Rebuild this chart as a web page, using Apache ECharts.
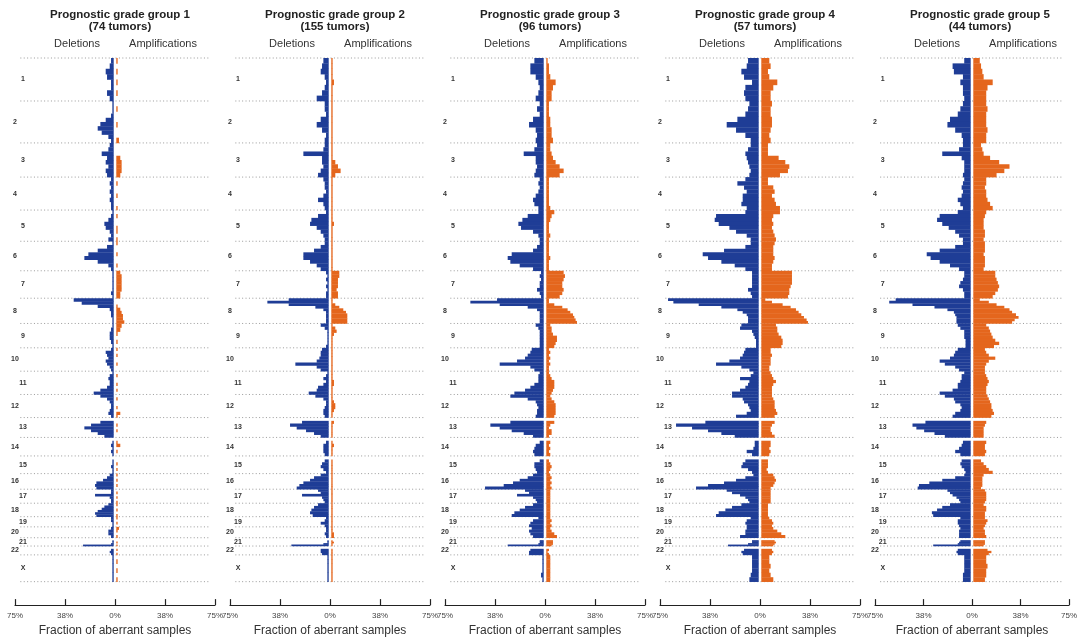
<!DOCTYPE html>
<html>
<head>
<meta charset="utf-8">
<script src="https://cdn.jsdelivr.net/npm/echarts@6/dist/echarts.min.js"></script>
<style>
  html, body { margin: 0; padding: 0; background: #fff; }
  #chart { width: 1080px; height: 642px; }
</style>
</head>
<body>
<div id="chart"></div>
<script>
const chromosomes = ['1', '2', '3', '4', '5', '6', '7', '8', '9', '10', '11', '12', '13', '14', '15', '16', '17', '18', '19', '20', '21', '22', 'X']
// chromosome lengths in Mb
const chromLengths = [249.25, 243.2, 198.0, 191.15, 180.9, 171.1, 159.1, 146.4, 141.2, 135.5, 135.0, 133.9, 115.2, 107.3, 102.5, 90.35, 81.2, 78.1, 59.1, 63.0, 48.1, 51.3, 155.3]
// no probes on the p-arm of acrocentric chromosomes (Mb)
const dataStart = [0, 0, 0, 0, 0, 0, 0, 0, 0, 0, 0, 0, 19, 19, 20, 0, 0, 0, 0, 0, 14, 16, 0]
const groupNames = ['Prognostic grade group 1', 'Prognostic grade group 2', 'Prognostic grade group 3', 'Prognostic grade group 4', 'Prognostic grade group 5']
const tumorCounts = [74, 155, 96, 57, 44]
const xTicks = [-75, -37.5, 0, 37.5, 75]

// fraction of aberrant samples (%), one list per chromosome, evenly spread along it
const del1 = [[2,3,6,5,2,2,5,3],[1,1,1,2,6,10,12,9,4,2],[3,4,9,5,6,4,6,5],[2,3,2,3,2,3,2,2],[1,2,4,7,6,3,2,4],[1,5,12,19,22,12,4,2],[1,1,1,1,1,1,2,1],[30,24,12,3,2,2,1,1],[1,2,3,3,2,1],[2,6,5,4,6,5,3,2],[1,3,4,3,3,5,10,15],[10,5,3,2,2,3,4,2],[10,17,22,17,12,7],[1,2,1,2,1],[1,1,2,1,1],[3,5,8,13,14,13],[2,2,14,3,2,2],[4,7,9,12,14,13],[2,2,1,1],[2,4,4,2],[1,1,2,23],[2,3,2],[1,1,1,1,1,1]]
const amp1 = [[1,0,1,0,1,0,1,0],[0,1,0,0,1,0,0,2],[0,0,0,3,4,4,4,3],[0,1,0,0,1,0,0,1],[0,1,0,0,1,1,0,1],[1,0,0,1,0,0,1,0],[3,4,4,4,4,4,3,3],[0,0,1,3,4,5,5,6],[4,3,1,0,1,0],[1,0,1,0,0,1,0,0],[0,1,0,0,1,0,1,0],[0,1,0,0,1,0,3,1],[0,1,0,1,0,0],[1,3,0,1,0],[0,1,0,1,0],[1,0,1,0,1,0],[0,1,0,1,0,1],[1,0,1,0,1],[1,0,1,0],[2,1,0,1],[0,1,0,1],[1,0,1],[0,1,0,1,0,1]]
const del2 = [[4,5,6,3,2,3,5,9],[3,3,2,6,9,5,2,3],[3,4,19,5,5,4,6,8],[4,3,3,2,4,8,4,3],[2,8,13,14,9,6,4,3],[3,6,11,19,19,14,9,6],[2,1,2,1,2,1,2,2],[30,46,30,10,4,2,2,2,2,2],[6,3,1,1,1,1,1,2],[5,6,6,7,9,25,9,6],[1,2,4,2,4,8,9,15],[10,4,2,2,3,4,4,3],[20,29,24,17,11,6],[2,4,4,4,3],[3,5,6,4,2],[6,11,14,19,22,24],[8,6,20,5,4,3],[8,11,13,14,12],[2,3,6,3],[2,2,3,2],[1,1,4,28],[6,6,5],[1,1,1,1,1,1]]
const amp2 = [[1,1,1,1,2,1,1,1],[1,1,1,1,1,1,1,1],[1,1,1,1,3,5,7,3],[1,1,1,1,1,1,1,1],[1,1,1,2,1,1,1,1],[1,1,1,1,1,1,1,1],[6,6,5,5,5,4,5,5],[1,1,3,6,9,11,12,12,12,12],[1,3,4,2,1,1,1,1],[1,1,1,1,1,1,1,1],[1,1,1,2,2,1,1,1],[1,1,2,3,3,2,1,1],[2,1,1,1,1,1],[1,2,1,1,1],[1,1,1,1,1],[1,1,1,1,1,1],[1,1,1,1,1,1],[1,1,1,1,1],[1,1,1,1],[1,1,2,2],[1,2,1,1],[1,1,1],[1,1,1,1,1,1]]
const del3 = [[7,10,10,6,4,3,4,6],[3,5,3,8,11,6,5,6],[5,7,15,6,6,5,6,7],[3,4,3,4,6,8,7,4],[4,12,16,19,17,8,4,3],[3,5,8,24,27,25,18,8],[2,3,2,3,3,5,3,2],[35,55,33,12,5,3,3,3,3,3],[6,4,3,3,3,3,3,3],[9,10,12,14,20,33,10,7],[3,4,4,4,7,10,14,22],[25,12,6,5,4,5,5,6],[25,40,33,24,15,8],[3,6,7,8,7],[3,7,7,6,5],[8,12,18,23,30,44],[14,11,20,8,6,5],[8,14,18,22,24],[4,8,10,11],[9,11,10,8],[3,3,4,27],[10,11,11],[1,1,1,1,2,1]]
const amp3 = [[1,2,2,3,7,5,4,4],[2,2,2,3,3,4,4,5],[3,3,4,5,7,10,13,10],[2,2,2,2,2,2,2,3],[6,4,3,2,2,2,3,2],[2,2,2,2,3,2,2,2],[13,14,13,12,12,13,12,10],[2,2,6,12,16,18,20,21,22,23],[3,4,4,5,8,8,7,6],[2,3,2,3,2,3,2,2],[2,3,4,6,6,6,5,4],[3,4,6,7,7,7,7,6],[6,3,2,4,4,2],[3,2,3,2,3],[2,3,4,3,2],[3,4,3,4,3,4],[3,3,3,3,3,3],[3,3,3,3,3],[3,4,3,4],[3,4,6,8],[5,5,5,4],[2,1,2],[3,3,3,3,3,3]]
const del4 = [[8,9,13,11,5,10,11,10],[7,8,10,16,24,17,10,6],[6,8,10,9,8,7,6,7],[10,16,11,9,12,12,13,9],[10,32,33,30,22,17,9,6],[6,10,26,42,38,28,18,10],[5,5,5,5,5,8,6,5],[68,64,45,28,16,12,9,8,8,8],[13,14,5,4,3,2,2,2],[10,11,12,14,22,32,13,7],[4,6,14,7,8,10,14,20],[20,12,11,8,7,6,9,17],[40,62,50,38,28,18],[3,3,4,9,5],[10,12,13,8,5],[4,10,17,26,38,47],[24,20,14,10,8,7],[13,20,25,30,32],[6,9,10,9],[9,10,10,14],[5,5,8,23],[11,13,12],[5,5,5,5,6,7]]
const amp4 = [[6,7,5,6,12,9,7,7],[8,7,7,8,8,7,6,7],[5,5,5,13,18,21,20,14],[5,5,9,10,8,10,11,14],[14,9,8,9,8,9,10,11],[10,9,9,9,10,9,8,8],[23,23,23,23,22,21,21,20],[3,8,16,22,26,28,30,32,34,35],[11,12,12,13,15,16,16,15],[7,7,8,7,7,7,6,6],[7,8,9,11,9,8,8,8],[8,9,10,10,10,11,12,10],[10,8,7,7,8,10],[7,7,6,7,6],[5,5,5,4,5],[9,10,11,10,9,7],[7,7,7,7,7,7],[5,5,5,5,5],[6,8,9,8],[9,12,15,18],[10,11,10,9],[8,9,8],[6,6,7,6,7,9]]
const del5 = [[5,14,13,6,8,6,6,5],[6,8,10,16,18,12,7,6],[6,9,22,7,5,5,5,6],[5,6,7,6,7,10,8,6],[10,24,26,22,17,12,9,6],[6,12,24,34,31,24,16,9],[5,5,6,8,9,6,5,5],[58,63,45,28,18,13,12,11,11,11],[10,8,5,5,5,4,4,4],[10,12,13,16,24,20,12,9],[5,7,7,8,10,10,14,24],[20,13,12,8,7,8,12,14],[35,45,42,36,28,20],[6,7,9,12,8],[7,8,7,5,4],[5,12,22,32,40,41],[18,16,14,11,9,8],[16,22,26,30,29],[8,10,10,9],[8,9,9,9],[8,9,10,29],[10,11,10],[5,5,5,5,6,6]]
const amp5 = [[5,6,7,8,15,11,10,10],[10,11,10,10,10,11,10,10],[6,7,8,13,20,28,24,18],[10,10,9,10,10,11,13,15],[10,9,8,8,8,9,9,8],[9,9,9,8,9,9,9,8],[17,17,18,19,20,19,17,15],[5,12,18,24,28,30,33,35,32,30],[10,12,13,14,15,17,20,16],[9,10,12,17,12,10,9,9],[9,10,11,12,11,10,10,10],[11,12,13,14,14,15,16,14],[10,9,8,8,8,8],[10,9,9,10,9],[6,8,10,12,15],[8,7,7,7,7,6],[9,10,10,10,10,9],[8,10,10,9,9],[9,11,10,9],[8,9,9,10],[9,9,9,8],[11,14,12],[10,10,11,10,10,9]]

const deletions = [del1, del2, del3, del4, del5]
const amplifications = [amp1, amp2, amp3, amp4, amp5]

const BLUE = '#1f3d96'
const ORANGE = '#e4661d'
const FONT = '"Liberation Sans", Arial, sans-serif'

// cumulative chromosome start positions
const chromStart = []
chromLengths.reduce((acc, len, i) => { chromStart[i] = acc; return acc + len }, 0)
const genomeEnd = chromStart[chromStart.length - 1] + chromLengths[chromLengths.length - 1]
const boundaries = chromStart.concat([genomeEnd])

const toSegments = (profile) => {
    const out = []
    profile.forEach((vals, c) => {
        const s = chromStart[c] + dataStart[c]
        const step = (chromStart[c] + chromLengths[c] - s) / vals.length
        vals.forEach((v, i) => out.push([s + i * step, s + (i + 1) * step, v]))
    })
    return out
}

const barRenderer = (sign, color) => (params, api) => {
    const v = api.value(2)
    if (!v) return
    const a = api.coord([0, api.value(0)])
    const b = api.coord([sign * v, api.value(1)])
    const gap = 1.3 // white line along 0%
    const xs = a[0] + sign * gap
    const xe = b[0] + sign * gap
    return {
        type: 'rect',
        shape: { x: Math.min(xs, xe), y: a[1], width: Math.abs(xe - xs), height: b[1] - a[1] + 0.3 },
        style: { fill: color }
    }
}

const grids = [], xAxes = [], yAxes = [], series = [], titles = []

for (let k = 0; k < 5; k++) {
    const left = 15 + 215 * k
    const zero = left + 100
    grids.push({ left: left, width: 200, top: 58, bottom: 33 })
    xAxes.push({
        gridIndex: k,
        type: 'value',
        position: 'bottom',
        min: xTicks[0],
        max: xTicks[xTicks.length - 1],
        interval: 37.5,
        axisLine: { show: true, onZero: false, lineStyle: { color: '#222', width: 1.2 } },
        axisTick: { show: true, inside: true, length: 6, lineStyle: { color: '#222', width: 1.2 } },
        axisLabel: { fontSize: 8, color: '#444', margin: 7, fontFamily: FONT, formatter: v => Math.round(Math.abs(v)) + '%' },
        splitLine: { show: false },
        name: 'Fraction of aberrant samples',
        nameLocation: 'middle',
        nameGap: 19,
        nameTextStyle: { fontSize: 12, color: '#333', fontFamily: FONT }
    })
    yAxes.push({ gridIndex: k, type: 'value', inverse: true, min: 0, max: 3172, show: false })

    titles.push({
        text: groupNames[k] + '\n(' + tumorCounts[k] + ' tumors)',
        left: zero, top: 4, textAlign: 'center',
        textStyle: { fontSize: 11.5, fontWeight: 'bold', lineHeight: 12, color: '#222', fontFamily: FONT }
    })
    titles.push({
        text: 'Deletions', left: zero - 43, top: 33, textAlign: 'center',
        textStyle: { fontSize: 11, fontWeight: 'normal', color: '#333', fontFamily: FONT }
    })
    titles.push({
        text: 'Amplifications', left: zero + 43, top: 33, textAlign: 'center',
        textStyle: { fontSize: 11, fontWeight: 'normal', color: '#333', fontFamily: FONT }
    })

    // dotted chromosome boundaries
    series.push({
        type: 'custom',
        xAxisIndex: k, yAxisIndex: k,
        silent: true, z: 1,
        data: boundaries.map(b => [0, b]),
        renderItem: (params, api) => {
            const p0 = api.coord([-71, api.value(1)])
            const p1 = api.coord([70, api.value(1)])
            return {
                type: 'line',
                shape: { x1: p0[0], y1: p0[1], x2: p1[0], y2: p1[1] },
                style: { stroke: '#9a9a9a', lineWidth: 1, lineDash: [1, 2.4] }
            }
        }
    })
    // chromosome labels
    series.push({
        type: 'custom',
        xAxisIndex: k, yAxisIndex: k,
        silent: true, z: 3,
        data: chromosomes.map((c, i) => [i % 2 === 0 ? -69 : -75, chromStart[i] + chromLengths[i] / 2, i]),
        renderItem: (params, api) => {
            const p = api.coord([api.value(0), api.value(1)])
            return {
                type: 'text',
                style: {
                    text: chromosomes[api.value(2)], x: p[0], y: p[1],
                    align: 'center', verticalAlign: 'middle',
                    fill: '#333', font: 'bold 7px ' + FONT
                }
            }
        }
    })
    series.push({
        name: 'Deletions',
        type: 'custom',
        xAxisIndex: k, yAxisIndex: k,
        silent: true, z: 2,
        data: toSegments(deletions[k]),
        renderItem: barRenderer(-1, BLUE)
    })
    series.push({
        name: 'Amplifications',
        type: 'custom',
        xAxisIndex: k, yAxisIndex: k,
        silent: true, z: 2,
        data: toSegments(amplifications[k]),
        renderItem: barRenderer(1, ORANGE)
    })
}

const chart = echarts.init(document.getElementById('chart'), null, { renderer: 'canvas' })
chart.setOption({
    animation: false,
    backgroundColor: '#fff',
    title: titles,
    grid: grids,
    xAxis: xAxes,
    yAxis: yAxes,
    series: series
})
</script>
</body>
</html>
